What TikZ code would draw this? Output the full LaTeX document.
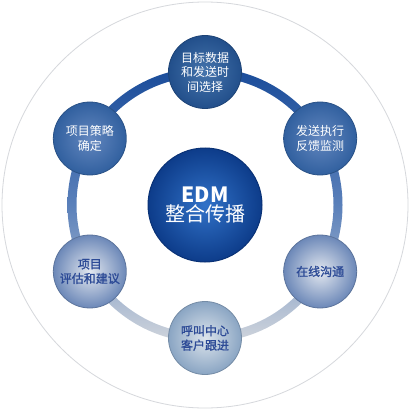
\documentclass[tikz,border=0pt]{standalone}
\usepackage{fontspec}
\usetikzlibrary{calc}
\setmainfont{Noto Sans CJK SC}
\newfontfamily\cjkbold{Noto Sans CJK SC}[FakeBold=1.2]
\definecolor{ringtop}{HTML}{1A4C9A}
\definecolor{ringmid}{HTML}{5A80BA}
\definecolor{ringbot}{HTML}{D0D5DC}
\definecolor{outerline}{HTML}{D6D8DC}
\definecolor{darktxt}{HTML}{2C4A96}
\definecolor{cin}{HTML}{3172C8}
\definecolor{cout}{HTML}{0D3C8A}
\definecolor{cline}{HTML}{0A3276}
\definecolor{s1o}{HTML}{224F8B}\definecolor{s1i}{HTML}{4574AC}
\definecolor{s2o}{HTML}{31609F}\definecolor{s2i}{HTML}{6387BF}
\definecolor{s3o}{HTML}{6C88B8}\definecolor{s3i}{HTML}{E2E7EF}
\definecolor{s4o}{HTML}{8AA5C3}\definecolor{s4i}{HTML}{DCE4EC}
\tikzset{
  sat/.style={circle, minimum size=73pt, inner sep=0pt, align=center,
    font=\fontsize{12pt}{14.5pt}\selectfont, line width=0.8pt},
  darksat/.style 2 args={sat, inner color=#2, outer color=#1, draw=#1!85!black, text=white},
  lightsat/.style 2 args={sat, inner color=#2, outer color=#1, draw=#1!85!black, text=darktxt,
    font=\fontsize{12pt}{14.5pt}\selectfont\cjkbold},
  hub/.style={circle, minimum size=114pt, inner sep=0pt, inner color=cin, outer color=cout,
    draw=cline, line width=1pt, text=white, align=center},
}
\begin{document}
\begin{tikzpicture}[x=1pt,y=-1pt]
\useasboundingbox[fill=white] (0,0) rectangle (409,409);
\coordinate (o) at (205,205);
% outer thin circle
\draw[outerline, line width=0.8pt] (o) circle (203pt);
% ring
\shade[even odd rule, top color=ringtop, bottom color=ringbot, middle color=ringmid]
  (o) circle (137.5pt) (o) circle (128.5pt);
% hub
\node[hub] (c) at (o)
  {{\fontsize{21pt}{22pt}\selectfont\bfseries EDM}\\[1pt]{\fontsize{20pt}{22pt}\selectfont 整合传播}};
% satellites
\node[darksat={s1o}{s1i}] (n1) at ($(o)+(90:133pt)$) {目标数据\\和发送时\\间选择};
\node[darksat={s2o}{s2i}] (n2) at ($(o)+(30:133pt)$) {发送执行\\反馈监测};
\node[lightsat={s3o}{s3i}] (n3) at ($(o)+(-30:133pt)$) {在线沟通};
\node[lightsat={s4o}{s4i}] (n4) at ($(o)+(-90:133pt)$) {呼叫中心\\客户跟进};
\node[lightsat={s3o}{s3i}] (n5) at ($(o)+(210:133pt)$) {项目\\评估和建议};
\node[darksat={s2o}{s2i}] (n6) at ($(o)+(150:133pt)$) {项目策略\\确定};
\end{tikzpicture}
\end{document}
